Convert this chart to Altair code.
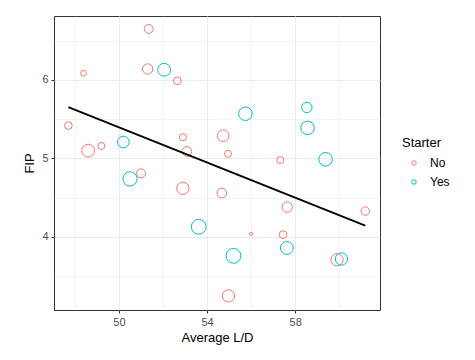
import altair as alt
import pandas as pd

# Average L/D, FIP, Starter flag and a size variable for each pitcher
ld = [51.35, 48.39, 51.30, 52.65, 47.70, 48.60, 49.20, 52.90, 53.08, 54.73, 54.95,
      57.32, 54.67, 57.64, 61.18, 56.00, 57.45, 59.90, 54.97, 51.00, 52.90,
      52.05, 50.20, 55.74, 58.53, 58.56, 59.38, 53.62, 57.62, 55.20, 60.10, 50.50]
fip = [6.65, 6.085, 6.14, 5.99, 5.42, 5.10, 5.16, 5.27, 5.09, 5.29, 5.06,
       4.98, 4.56, 4.38, 4.33, 4.04, 4.03, 3.71, 3.25, 4.81, 4.62,
       6.13, 5.21, 5.57, 5.65, 5.39, 4.99, 4.13, 3.86, 3.76, 3.72, 4.74]
starter = ["No"] * 21 + ["Yes"] * 11
weight = [9.3, 6.0, 10.7, 8.0, 8.0, 13.3, 7.3, 7.3, 10.0, 12.0, 7.3,
          7.3, 10.0, 10.7, 8.7, 3.3, 8.0, 12.7, 12.7, 9.3, 12.7,
          13.3, 12.0, 14.0, 10.7, 14.0, 14.0, 15.3, 13.3, 15.3, 12.7, 14.7]

df = pd.DataFrame({"ld": ld, "fip": fip, "Starter": starter, "w": weight})

xscale = alt.Scale(domain=[47.05, 61.85], nice=False, zero=False)
yscale = alt.Scale(domain=[3.07, 6.815], nice=False, zero=False)

xaxis = alt.Axis(
    values=[48, 50, 52, 54, 56, 58, 60],
    labelExpr="datum.value % 4 == 2 ? datum.label : ''",
    tickOpacity={"condition": {"test": "datum.value % 4 == 2", "value": 1}, "value": 0},
    gridWidth={"condition": {"test": "datum.value % 4 == 2", "value": 1}, "value": 0.6},
)
yaxis = alt.Axis(
    values=[3.5, 4, 4.5, 5, 5.5, 6, 6.5],
    labelExpr="datum.value % 1 == 0 ? format(datum.value, 'd') : ''",
    tickOpacity={"condition": {"test": "datum.value % 1 == 0", "value": 1}, "value": 0},
    gridWidth={"condition": {"test": "datum.value % 1 == 0", "value": 1}, "value": 0.6},
    titlePadding=5,
)

points = alt.Chart(df).mark_point(filled=False, strokeWidth=1, opacity=1).encode(
    x=alt.X("ld:Q", title="Average L/D", scale=xscale, axis=xaxis),
    y=alt.Y("fip:Q", title="FIP", scale=yscale, axis=yaxis),
    color=alt.Color("Starter:N",
                    scale=alt.Scale(domain=["No", "Yes"], range=["#F8766D", "#00BFC4"]),
                    legend=alt.Legend(title="Starter", orient="none", legendX=348, legendY=121,
                                      symbolSize=20, symbolStrokeWidth=1,
                                      labelFontSize=12, titleFontSize=13, titleFontWeight="normal",
                                      titleColor="#000", labelColor="#000",
                                      rowPadding=7, symbolType="circle",
                                      symbolOffset=6, labelOffset=10,
                                      titlePadding=7)),
    size=alt.Size("w:Q", scale=alt.Scale(type="pow", exponent=2, domain=[0, 16], range=[0, 240]),
                  legend=None),
)

line = alt.Chart(df).transform_regression("ld", "fip").mark_line(
    color="black", strokeWidth=1.8
).encode(x=alt.X("ld:Q", scale=xscale), y=alt.Y("fip:Q", scale=yscale))

chart = alt.layer(points, line).properties(
    width=326, height=294,
    padding={"left": 15, "top": 8, "right": 5, "bottom": 5},
).configure_view(
    stroke="#333333", strokeWidth=1
).configure_axis(
    domain=False, gridColor="#EBEBEB", tickColor="#333333", tickSize=3,
    labelColor="#4D4D4D", labelFontSize=11, labelFont="Liberation Sans",
    titleFont="Liberation Sans", titleFontSize=13, titleFontWeight="normal", titleColor="#000",
    labelPadding=3,
).configure_legend(
    labelFont="Liberation Sans", titleFont="Liberation Sans"
)

chart.save("out.html", embed_options={"renderer": "svg", "actions": False})
